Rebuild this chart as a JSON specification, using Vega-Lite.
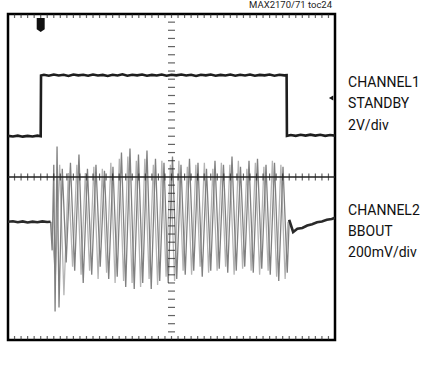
{
  "$schema": "https://vega.github.io/schema/vega-lite/v6.json",
  "width": 327,
  "height": 326,
  "autosize": {"type": "none"},
  "padding": {"left": 8, "top": 14, "right": 90, "bottom": 37},
  "background": "white",
  "config": {"view": {"stroke": "#000", "strokeWidth": 2.5}},
  "datasets": {
    "ch1": [
      {"x": 0, "y": 1.01}, {"x": 0.15, "y": 0.995}, {"x": 0.3, "y": 1.015}, {"x": 0.45, "y": 0.99}, {"x": 0.6, "y": 1.01}, {"x": 0.75, "y": 0.995}, {"x": 0.9, "y": 1.015}, {"x": 1.0, "y": 1.0},
      {"x": 1.01, "y": 2.49}, {"x": 1.1, "y": 2.51}, {"x": 1.25, "y": 2.485}, {"x": 1.4, "y": 2.515}, {"x": 1.55, "y": 2.49}, {"x": 1.7, "y": 2.51}, {"x": 1.85, "y": 2.48}, {"x": 2.0, "y": 2.515}, {"x": 2.15, "y": 2.495}, {"x": 2.3, "y": 2.51}, {"x": 2.45, "y": 2.485}, {"x": 2.6, "y": 2.515}, {"x": 2.75, "y": 2.49}, {"x": 2.9, "y": 2.505}, {"x": 3.05, "y": 2.48}, {"x": 3.2, "y": 2.51}, {"x": 3.35, "y": 2.49}, {"x": 3.5, "y": 2.52}, {"x": 3.65, "y": 2.485}, {"x": 3.8, "y": 2.51}, {"x": 3.95, "y": 2.495}, {"x": 4.1, "y": 2.515}, {"x": 4.25, "y": 2.485}, {"x": 4.4, "y": 2.505}, {"x": 4.55, "y": 2.49}, {"x": 4.7, "y": 2.515}, {"x": 4.85, "y": 2.485}, {"x": 5.0, "y": 2.51}, {"x": 5.15, "y": 2.495}, {"x": 5.3, "y": 2.515}, {"x": 5.45, "y": 2.49}, {"x": 5.6, "y": 2.51}, {"x": 5.75, "y": 2.48}, {"x": 5.9, "y": 2.51}, {"x": 6.05, "y": 2.495}, {"x": 6.2, "y": 2.515}, {"x": 6.35, "y": 2.485}, {"x": 6.5, "y": 2.505}, {"x": 6.65, "y": 2.49}, {"x": 6.8, "y": 2.515}, {"x": 6.95, "y": 2.485}, {"x": 7.1, "y": 2.51}, {"x": 7.25, "y": 2.49}, {"x": 7.4, "y": 2.515}, {"x": 7.55, "y": 2.485}, {"x": 7.7, "y": 2.505}, {"x": 7.85, "y": 2.495}, {"x": 8.0, "y": 2.515}, {"x": 8.15, "y": 2.485}, {"x": 8.3, "y": 2.51}, {"x": 8.45, "y": 2.495}, {"x": 8.52, "y": 2.5},
      {"x": 8.53, "y": 1.01}, {"x": 8.65, "y": 1.03}, {"x": 8.8, "y": 1.01}, {"x": 8.95, "y": 1.035}, {"x": 9.1, "y": 1.015}, {"x": 9.25, "y": 1.04}, {"x": 9.4, "y": 1.015}, {"x": 9.55, "y": 1.035}, {"x": 9.7, "y": 1.01}, {"x": 9.85, "y": 1.03}, {"x": 10, "y": 1.015}
    ],
    "ch2": [
      {"part": "pre", "x": 0, "y": -1.1}, {"part": "pre", "x": 0.15, "y": -1.085}, {"part": "pre", "x": 0.3, "y": -1.11}, {"part": "pre", "x": 0.45, "y": -1.09}, {"part": "pre", "x": 0.6, "y": -1.115}, {"part": "pre", "x": 0.75, "y": -1.095}, {"part": "pre", "x": 0.9, "y": -1.11}, {"part": "pre", "x": 1.05, "y": -1.09}, {"part": "pre", "x": 1.2, "y": -1.105}, {"part": "pre", "x": 1.3, "y": -1.1},
      {"part": "burst", "x": 1.3, "y": -1.1}, {"part": "burst", "x": 1.35, "y": -1.8}, {"part": "burst", "x": 1.4, "y": 0.3}, {"part": "burst", "x": 1.44, "y": -3.3}, {"part": "burst", "x": 1.5, "y": 0.75}, {"part": "burst", "x": 1.56, "y": -3.2}, {"part": "burst", "x": 1.66, "y": 0.2},
      {"part": "burst", "x": 1.78, "y": -2.1}, {"part": "burst", "x": 1.91, "y": 0.35}, {"part": "burst", "x": 2.04, "y": -2.3}, {"part": "burst", "x": 2.17, "y": 0.55}, {"part": "burst", "x": 2.3, "y": -2.6}, {"part": "burst", "x": 2.43, "y": 0.2}, {"part": "burst", "x": 2.56, "y": -2.4}, {"part": "burst", "x": 2.69, "y": 0.3}, {"part": "burst", "x": 2.82, "y": -2.2}, {"part": "burst", "x": 2.95, "y": 0.15}, {"part": "burst", "x": 3.08, "y": -2.5}, {"part": "burst", "x": 3.21, "y": 0.25}, {"part": "burst", "x": 3.34, "y": -2.45}, {"part": "burst", "x": 3.47, "y": 0.6}, {"part": "burst", "x": 3.6, "y": -2.7}, {"part": "burst", "x": 3.73, "y": 0.7}, {"part": "burst", "x": 3.86, "y": -2.75}, {"part": "burst", "x": 3.99, "y": 0.55}, {"part": "burst", "x": 4.12, "y": -2.6}, {"part": "burst", "x": 4.25, "y": 0.65}, {"part": "burst", "x": 4.38, "y": -2.75}, {"part": "burst", "x": 4.51, "y": 0.45}, {"part": "burst", "x": 4.64, "y": -2.55}, {"part": "burst", "x": 4.77, "y": 0.35}, {"part": "burst", "x": 4.9, "y": -2.6}, {"part": "burst", "x": 5.03, "y": 0.5}, {"part": "burst", "x": 5.16, "y": -2.5}, {"part": "burst", "x": 5.29, "y": 0.3}, {"part": "burst", "x": 5.42, "y": -2.4}, {"part": "burst", "x": 5.55, "y": 0.45}, {"part": "burst", "x": 5.68, "y": -2.3}, {"part": "burst", "x": 5.81, "y": 0.35}, {"part": "burst", "x": 5.94, "y": -2.45}, {"part": "burst", "x": 6.07, "y": 0.2}, {"part": "burst", "x": 6.2, "y": -2.3}, {"part": "burst", "x": 6.33, "y": 0.4}, {"part": "burst", "x": 6.46, "y": -2.25}, {"part": "burst", "x": 6.59, "y": 0.3}, {"part": "burst", "x": 6.72, "y": -2.35}, {"part": "burst", "x": 6.85, "y": 0.5}, {"part": "burst", "x": 6.98, "y": -2.3}, {"part": "burst", "x": 7.11, "y": 0.25}, {"part": "burst", "x": 7.24, "y": -2.2}, {"part": "burst", "x": 7.37, "y": 0.4}, {"part": "burst", "x": 7.5, "y": -2.35}, {"part": "burst", "x": 7.63, "y": 0.45}, {"part": "burst", "x": 7.76, "y": -2.25}, {"part": "burst", "x": 7.89, "y": 0.3}, {"part": "burst", "x": 8.02, "y": -2.4}, {"part": "burst", "x": 8.15, "y": 0.35}, {"part": "burst", "x": 8.28, "y": -2.55}, {"part": "burst", "x": 8.41, "y": 0.25}, {"part": "burst", "x": 8.54, "y": -2.35}, {"part": "burst", "x": 8.6, "y": -1.05},
      {"part": "echo", "x": 1.32, "y": -1.1}, {"part": "echo", "x": 1.45, "y": -2.4}, {"part": "echo", "x": 1.58, "y": 0.3}, {"part": "echo", "x": 1.71, "y": -2.9}, {"part": "echo", "x": 1.845, "y": 0.1}, {"part": "echo", "x": 1.975, "y": -2.2}, {"part": "echo", "x": 2.105, "y": 0.3}, {"part": "echo", "x": 2.235, "y": -2.4}, {"part": "echo", "x": 2.365, "y": 0.1}, {"part": "echo", "x": 2.495, "y": -2.3}, {"part": "echo", "x": 2.625, "y": 0.25}, {"part": "echo", "x": 2.755, "y": -2.5}, {"part": "echo", "x": 2.885, "y": 0.2}, {"part": "echo", "x": 3.015, "y": -2.35}, {"part": "echo", "x": 3.145, "y": 0.35}, {"part": "echo", "x": 3.275, "y": -2.6}, {"part": "echo", "x": 3.405, "y": 0.45}, {"part": "echo", "x": 3.535, "y": -2.55}, {"part": "echo", "x": 3.665, "y": 0.5}, {"part": "echo", "x": 3.795, "y": -2.6}, {"part": "echo", "x": 3.925, "y": 0.4}, {"part": "echo", "x": 4.055, "y": -2.7}, {"part": "echo", "x": 4.185, "y": 0.45}, {"part": "echo", "x": 4.315, "y": -2.5}, {"part": "echo", "x": 4.445, "y": 0.3}, {"part": "echo", "x": 4.575, "y": -2.65}, {"part": "echo", "x": 4.705, "y": 0.4}, {"part": "echo", "x": 4.835, "y": -2.45}, {"part": "echo", "x": 4.965, "y": 0.3}, {"part": "echo", "x": 5.095, "y": -2.55}, {"part": "echo", "x": 5.225, "y": 0.4}, {"part": "echo", "x": 5.355, "y": -2.3}, {"part": "echo", "x": 5.485, "y": 0.25}, {"part": "echo", "x": 5.615, "y": -2.4}, {"part": "echo", "x": 5.745, "y": 0.3}, {"part": "echo", "x": 5.875, "y": -2.2}, {"part": "echo", "x": 6.005, "y": 0.35}, {"part": "echo", "x": 6.135, "y": -2.35}, {"part": "echo", "x": 6.265, "y": 0.2}, {"part": "echo", "x": 6.395, "y": -2.3}, {"part": "echo", "x": 6.525, "y": 0.35}, {"part": "echo", "x": 6.655, "y": -2.2}, {"part": "echo", "x": 6.785, "y": 0.3}, {"part": "echo", "x": 6.915, "y": -2.4}, {"part": "echo", "x": 7.045, "y": 0.4}, {"part": "echo", "x": 7.175, "y": -2.25}, {"part": "echo", "x": 7.305, "y": 0.2}, {"part": "echo", "x": 7.435, "y": -2.3}, {"part": "echo", "x": 7.565, "y": 0.35}, {"part": "echo", "x": 7.695, "y": -2.4}, {"part": "echo", "x": 7.825, "y": 0.25}, {"part": "echo", "x": 7.955, "y": -2.3}, {"part": "echo", "x": 8.085, "y": 0.4}, {"part": "echo", "x": 8.215, "y": -2.45}, {"part": "echo", "x": 8.345, "y": 0.3}, {"part": "echo", "x": 8.475, "y": -2.5}, {"part": "echo", "x": 8.56, "y": -1.1},
      {"part": "post", "x": 8.6, "y": -1.05}, {"part": "post", "x": 8.72, "y": -1.35}, {"part": "post", "x": 8.85, "y": -1.27}, {"part": "post", "x": 9.0, "y": -1.25}, {"part": "post", "x": 9.15, "y": -1.19}, {"part": "post", "x": 9.3, "y": -1.16}, {"part": "post", "x": 9.45, "y": -1.11}, {"part": "post", "x": 9.6, "y": -1.09}, {"part": "post", "x": 9.75, "y": -1.05}, {"part": "post", "x": 9.9, "y": -1.03}, {"part": "post", "x": 10, "y": -1.0}
    ],
    "xt": [
      {"v": 0.2}, {"v": 0.4}, {"v": 0.6}, {"v": 0.8}, {"v": 1}, {"v": 1.2}, {"v": 1.4}, {"v": 1.6}, {"v": 1.8}, {"v": 2}, {"v": 2.2}, {"v": 2.4}, {"v": 2.6}, {"v": 2.8}, {"v": 3}, {"v": 3.2}, {"v": 3.4}, {"v": 3.6}, {"v": 3.8}, {"v": 4}, {"v": 4.2}, {"v": 4.4}, {"v": 4.6}, {"v": 4.8}, {"v": 5}, {"v": 5.2}, {"v": 5.4}, {"v": 5.6}, {"v": 5.8}, {"v": 6}, {"v": 6.2}, {"v": 6.4}, {"v": 6.6}, {"v": 6.8}, {"v": 7}, {"v": 7.2}, {"v": 7.4}, {"v": 7.6}, {"v": 7.8}, {"v": 8}, {"v": 8.2}, {"v": 8.4}, {"v": 8.6}, {"v": 8.8}, {"v": 9}, {"v": 9.2}, {"v": 9.4}, {"v": 9.6}, {"v": 9.8}
    ],
    "yt": [
      {"v": -3.8}, {"v": -3.6}, {"v": -3.4}, {"v": -3.2}, {"v": -3}, {"v": -2.8}, {"v": -2.6}, {"v": -2.4}, {"v": -2.2}, {"v": -2}, {"v": -1.8}, {"v": -1.6}, {"v": -1.4}, {"v": -1.2}, {"v": -1}, {"v": -0.8}, {"v": -0.6}, {"v": -0.4}, {"v": -0.2}, {"v": 0.2}, {"v": 0.4}, {"v": 0.6}, {"v": 0.8}, {"v": 1}, {"v": 1.2}, {"v": 1.4}, {"v": 1.6}, {"v": 1.8}, {"v": 2}, {"v": 2.2}, {"v": 2.4}, {"v": 2.6}, {"v": 2.8}, {"v": 3}, {"v": 3.2}, {"v": 3.4}, {"v": 3.6}, {"v": 3.8}
    ]
  },
  "layer": [
    {
      "data": {"name": "ch2"},
      "transform": [{"filter": "datum.part === 'echo'"}],
      "mark": {"type": "line", "color": "#b4b4b4", "strokeWidth": 1.3, "clip": true},
      "encoding": {
        "x": {"field": "x", "type": "quantitative", "sort": null, "scale": {"domain": [0, 10], "nice": false, "zero": false},
          "axis": {"values": [1, 2, 3, 4, 5, 6, 7, 8, 9], "grid": true, "gridDash": [1.5, 6.65], "gridColor": "#333", "gridWidth": 1.5, "gridOpacity": 1, "domain": false, "ticks": false, "labels": false,
            "title": "4µs/div", "titleFont": "Roboto", "titleFontSize": 14, "titleFontWeight": "normal", "titleColor": "#111", "titlePadding": 32, "titleBaseline": "alphabetic"}},
        "y": {"field": "y", "type": "quantitative", "scale": {"domain": [-4, 4], "nice": false, "zero": false},
          "axis": {"values": [-3, -2, -1, 1, 2, 3], "grid": true, "gridDash": [1.5, 5.04], "gridColor": "#333", "gridWidth": 1.5, "gridOpacity": 1, "domain": false, "ticks": false, "labels": false, "title": null}}
      }
    },
    {
      "data": {"name": "ch2"},
      "transform": [{"filter": "datum.part === 'burst'"}],
      "mark": {"type": "line", "color": "#808080", "strokeWidth": 1.3, "clip": true},
      "encoding": {
        "x": {"field": "x", "type": "quantitative", "sort": null, "axis": null},
        "y": {"field": "y", "type": "quantitative", "axis": null}
      }
    },
    {
      "data": {"name": "ch2"},
      "transform": [{"filter": "datum.part === 'pre' || datum.part === 'post'"}],
      "mark": {"type": "line", "color": "#2a2a2a", "strokeWidth": 2.6, "clip": true},
      "encoding": {
        "x": {"field": "x", "type": "quantitative", "sort": null, "axis": null},
        "y": {"field": "y", "type": "quantitative", "axis": null},
        "detail": {"field": "part"}
      }
    },
    {
      "data": {"name": "ch1"},
      "mark": {"type": "line", "color": "#1e1e1e", "strokeWidth": 2.6, "clip": true},
      "encoding": {
        "x": {"field": "x", "type": "quantitative", "sort": null, "axis": null},
        "y": {"field": "y", "type": "quantitative", "axis": null}
      }
    },
    {
      "data": {"values": [{"v": 0}]},
      "mark": {"type": "rule", "color": "#222", "strokeWidth": 1.4},
      "encoding": {"y": {"field": "v", "type": "quantitative", "axis": null}}
    },
    {
      "data": {"name": "xt"},
      "mark": {"type": "tick", "orient": "vertical", "color": "#222", "size": 7, "thickness": 1.2},
      "encoding": {"x": {"field": "v", "type": "quantitative", "axis": null}, "y": {"datum": 0, "type": "quantitative", "axis": null}}
    },
    {
      "data": {"name": "yt"},
      "mark": {"type": "tick", "orient": "horizontal", "color": "#222", "size": 7, "thickness": 1.2},
      "encoding": {"y": {"field": "v", "type": "quantitative", "axis": null}, "x": {"datum": 5, "type": "quantitative", "axis": null}}
    },
    {
      "data": {"name": "xt"},
      "mark": {"type": "tick", "orient": "vertical", "color": "#222", "size": 8, "thickness": 1.2, "clip": true},
      "encoding": {"x": {"field": "v", "type": "quantitative", "axis": null}, "y": {"datum": 4, "type": "quantitative", "axis": null}}
    },
    {
      "data": {"name": "xt"},
      "mark": {"type": "tick", "orient": "vertical", "color": "#222", "size": 8, "thickness": 1.2, "clip": true},
      "encoding": {"x": {"field": "v", "type": "quantitative", "axis": null}, "y": {"datum": -4, "type": "quantitative", "axis": null}}
    },
    {
      "data": {"values": [{"x": 1.0, "y": 3.73}]},
      "mark": {"type": "point", "filled": true, "color": "#111", "opacity": 1, "size": 196, "shape": "M-0.57,-1L0.57,-1L0.57,0.6L0,1L-0.57,0.6Z"},
      "encoding": {"x": {"field": "x", "type": "quantitative", "axis": null}, "y": {"field": "y", "type": "quantitative", "axis": null}}
    },
    {
      "data": {"values": [{"x": 9.88, "y": 1.94}]},
      "mark": {"type": "point", "filled": true, "color": "#111", "opacity": 1, "size": 25, "shape": "triangle-left"},
      "encoding": {"x": {"field": "x", "type": "quantitative", "axis": null}, "y": {"field": "y", "type": "quantitative", "axis": null}}
    },
    {
      "data": {"values": [{"x": 10.4, "y": 2.21, "t": "CHANNEL1\nSTANDBY\n2V/div"}, {"x": 10.4, "y": -0.93, "t": "CHANNEL2\nBBOUT\n200mV/div"}]},
      "mark": {"type": "text", "align": "left", "baseline": "alphabetic", "lineBreak": "\n", "lineHeight": 21.3, "font": "Roboto", "fontSize": 14, "color": "#111"},
      "encoding": {"x": {"field": "x", "type": "quantitative", "axis": null}, "y": {"field": "y", "type": "quantitative", "axis": null}, "text": {"field": "t"}}
    },
    {
      "data": {"values": [{"x": 9.91, "y": 4.147, "t": "MAX2170/71 toc24"}]},
      "mark": {"type": "text", "align": "right", "baseline": "alphabetic", "font": "Roboto", "fontSize": 9.5, "color": "#222"},
      "encoding": {"x": {"field": "x", "type": "quantitative", "axis": null}, "y": {"field": "y", "type": "quantitative", "axis": null}, "text": {"field": "t"}}
    }
  ]
}
